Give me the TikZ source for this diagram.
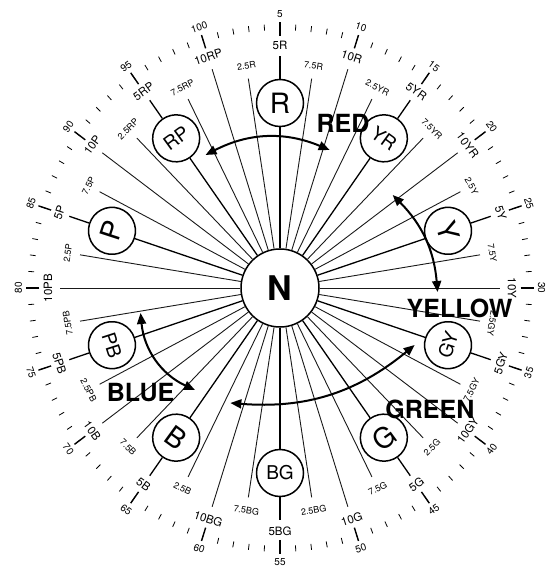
\documentclass[tikz,border=0pt]{standalone}
\usepackage{fontspec}
\setmainfont{TeX Gyre Heros}
\usetikzlibrary{arrows.meta}
\tikzset{
 spoke/.style={draw=black!90,line width=.9pt},
 hueline/.style={draw=black,line width=1.3pt},
 hue/.style={circle,draw,line width=1.5pt,minimum size=47pt,inner sep=0pt},
 neutral/.style={circle,draw,line width=1.5pt,minimum size=78pt,inner sep=0pt,font=\fontsize{34}{34}\selectfont\bfseries},
 bigtag/.style={font=\fontsize{11.5}{11.5}\selectfont,inner sep=.5pt},
 smalltag/.style={font=\fontsize{9}{9}\selectfont,inner sep=.5pt},
 numtag/.style={font=\fontsize{10}{10}\selectfont,inner sep=.5pt},
 minortick/.style={line width=.8pt},
 majortick/.style={line width=1.4pt},
 colname/.style={font=\fontsize{25}{25}\selectfont\bfseries,inner sep=1pt},
 swing/.style={{Triangle[length=11pt,width=9pt]}-{Triangle[length=11pt,width=9pt]},line width=2pt}
}
\begin{document}
\begin{tikzpicture}[x=.955pt,y=1pt]
\useasboundingbox (-293.2,-284) rectangle (279.6,288);
\node[neutral] (N) at (0,0) {N};
\foreach \f/\nm/\fs in {0/R/28,1/YR/19,2/Y/28,3/GY/19,4/G/28,5/BG/19,6/B/28,7/PB/19,8/P/28,9/RP/19} {
 \pgfmathsetmacro\a{mod(90-36*\f+540,360)-180}
 \pgfmathsetmacro\rot{(\a<-10)*(\a>-170)*180+\a-90}
 \node[hue,font=\fontsize{\fs}{\fs}\selectfont,rotate=\rot] (h\nm) at (\a:185) {\nm};
 \coordinate (s\nm) at (\a:232);
 \draw[hueline] (N) -- (h\nm);
 \draw[hueline] (h\nm) -- (s\nm);
 \node[bigtag,rotate=\rot] (t\nm) at (\a:243) {5\nm};
 \foreach \v/\rl/\rt/\sty [count=\j] in {2.5/212/225/smalltag,7.5/212/225/smalltag,10/230/243/bigtag} {
  \pgfmathsetmacro\b{mod(90-(10*\f+\v-5)*3.6+540,360)-180}
  \pgfmathsetmacro\rtt{(\b<-10)*(\b>-170)*180+\b-90}
  \coordinate (e\f-\j) at (\b:\rl);
  \draw[spoke] (N) -- (e\f-\j);
  \node[\sty,rotate=\rtt] (t\f-\j) at (\b:\rt) {\v\nm};
 }
}
\foreach \n in {1,...,100} {
 \pgfmathsetmacro\a{90-(\n-5)*3.6}
 \draw[minortick] (\a:258) -- (\a:264);
}
\foreach \n in {5,10,...,100} {
 \pgfmathsetmacro\a{mod(90-(\n-5)*3.6+540,360)-180}
 \pgfmathsetmacro\rot{(\a<-10)*(\a>-170)*180+\a-90}
 \draw[majortick] (\a:252) -- (\a:266);
 \node[numtag,rotate=\rot] (n\n) at (\a:274) {\n};
}
\coordinate (redA) at (-78,133);
\coordinate (redB) at (52,138);
\coordinate (yelA) at (118,93);
\coordinate (yelB) at (165,-4);
\coordinate (grnA) at (-52,-115);
\coordinate (grnB) at (141,-57);
\coordinate (bluA) at (-146,-25);
\coordinate (bluB) at (-89,-102);
\draw[swing] (redA) to[bend left=25] (redB);
\draw[swing] (yelA) to[bend left=20] (yelB);
\draw[swing] (grnA) to[bend right=22] (grnB);
\draw[swing] (bluA) to[bend right=30] (bluB);
\node[colname] (red) at (66,165) {RED};
\node[colname] (yellow) at (188,-20) {YELLOW};
\node[colname] (blue) at (-146,-105) {BLUE};
\node[colname] (green) at (157,-121) {GREEN};
\end{tikzpicture}
\end{document}
